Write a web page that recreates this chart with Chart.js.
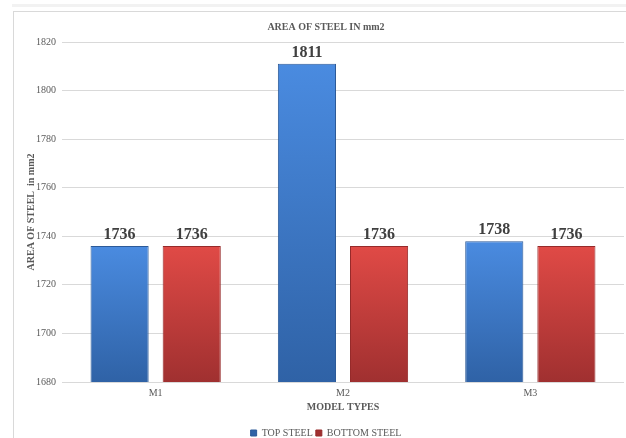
<!DOCTYPE html>
<html>
<head>
<meta charset="utf-8">
<script src="https://cdn.jsdelivr.net/npm/chart.js@4.4.1/dist/chart.umd.min.js"></script>
<style>
  html, body { margin: 0; padding: 0; background: #fff; width: 626px; height: 438px; overflow: hidden; }
  #band { position: absolute; left: 12px; top: 4px; width: 640px; height: 3px; background: #f2f2f2; }
  #frame { position: absolute; left: 13px; top: 11px; width: 640px; height: 460px; border: 1px solid #d9d9d9; }
  #wrap { position: absolute; left: 0; top: 0; width: 626px; height: 438px; }
</style>
</head>
<body>
<div id="band"></div>
<div id="frame"></div>
<div id="wrap"><canvas id="c" width="626" height="438"></canvas></div>
<script>
// Model types and steel areas (mm2)
const categories = ['M1', 'M2', 'M3'];
const topSteel = [1736, 1811, 1738];
const bottomSteel = [1736, 1736, 1736];
const seriesNames = ['TOP STEEL', 'BOTTOM STEEL'];
const yMin = 1680;
const yMax = 1820;
const yStep = 20;

const FONT = '"Liberation Serif", "Times New Roman", serif';
const TEXT = '#595959';
const GRID = '#d9d9d9';

// Vertical gradient for each bar, from its top down to the axis base
function barFill(topColor, bottomColor) {
  return (ctx) => {
    if (ctx.type !== 'data') return topColor;
    const chart = ctx.chart;
    const y = chart.scales && chart.scales.y;
    if (!y || !chart.chartArea) return topColor;
    const yTop = y.getPixelForValue(ctx.raw);
    const yBase = y.getPixelForValue(y.min);
    if (!isFinite(yTop) || !isFinite(yBase) || yTop === yBase) return topColor;
    const g = chart.ctx.createLinearGradient(0, yTop, 0, yBase);
    g.addColorStop(0, topColor);
    g.addColorStop(1, bottomColor);
    return g;
  };
}

// Value written above each bar
const valueLabels = {
  id: 'valueLabels',
  afterDatasetsDraw(chart) {
    const { ctx } = chart;
    ctx.save();
    ctx.font = 'bold 16px ' + FONT;
    ctx.fillStyle = '#404040';
    ctx.textAlign = 'center';
    ctx.textBaseline = 'middle';
    chart.data.datasets.forEach((ds, i) => {
      const meta = chart.getDatasetMeta(i);
      meta.data.forEach((bar, j) => {
        ctx.fillText(String(ds.data[j]), bar.x, bar.y - 11);
      });
    });
    ctx.restore();
  }
};

new Chart(document.getElementById('c'), {
  type: 'bar',
  data: {
    labels: categories,
    datasets: [
      {
        label: seriesNames[0],
        data: topSteel,
        backgroundColor: barFill('#4a8be0', '#2f62a6'),
        borderColor: '#2c5a98',
        borderWidth: 1,
        categoryPercentage: 0.77,
        barPercentage: 0.806
      },
      {
        label: seriesNames[1],
        data: bottomSteel,
        backgroundColor: barFill('#e04a46', '#a03030'),
        borderColor: '#962a2a',
        borderWidth: 1,
        categoryPercentage: 0.77,
        barPercentage: 0.806
      }
    ]
  },
  options: {
    responsive: false,
    animation: false,
    layout: { padding: { left: 28, right: 2, top: 0, bottom: -10 } },
    plugins: {
      title: {
        display: true,
        text: 'AREA OF STEEL IN mm2',
        color: TEXT,
        font: { family: FONT, size: 10, weight: 'bold' },
        padding: { top: 21, bottom: 9 }
      },
      legend: {
        position: 'bottom',
        labels: {
          color: TEXT,
          font: { family: FONT, size: 10 },
          boxWidth: 6,
          boxHeight: 6,
          padding: 3
        }
      },
      tooltip: { enabled: false }
    },
    scales: {
      x: {
        grid: { display: false, drawTicks: false },
        border: { display: false },
        ticks: { color: TEXT, font: { family: FONT, size: 10 }, padding: 5 },
        title: {
          display: true,
          text: 'MODEL TYPES',
          color: TEXT,
          font: { family: FONT, size: 10, weight: 'bold' },
          padding: { top: 0, bottom: 12 }
        },
        afterFit: (s) => { s.height = 43; }
      },
      y: {
        min: yMin,
        max: yMax,
        grid: { color: GRID, drawTicks: false },
        border: { display: false },
        ticks: {
          stepSize: yStep,
          color: TEXT,
          font: { family: FONT, size: 10 },
          padding: 6,
          callback: (v) => String(v)
        },
        title: {
          display: true,
          text: 'AREA OF STEEL  in mm2',
          color: TEXT,
          font: { family: FONT, size: 10, weight: 'bold' },
          padding: { top: -3, bottom: 0 }
        },
        afterFit: (s) => { s.width = 34; }
      }
    }
  },
  plugins: [valueLabels]
});
</script>
</body>
</html>
